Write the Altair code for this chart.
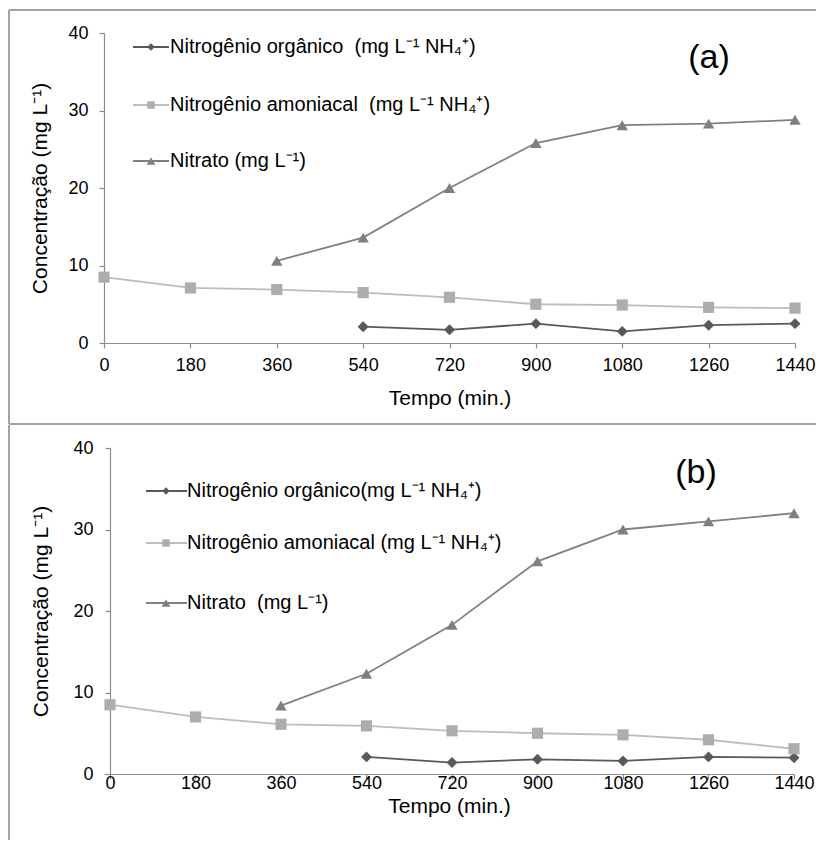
import altair as alt
import pandas as pd

# Sampling times (min)
tempo = [0, 180, 360, 540, 720, 900, 1080, 1260, 1440]
series = ["Nitrogênio orgânico", "Nitrogênio amoniacal", "Nitrato"]

# Panel (a)
org_a = [None, None, None, 2.1, 1.7, 2.5, 1.5, 2.3, 2.5]
amon_a = [8.5, 7.1, 6.9, 6.5, 5.9, 5.0, 4.9, 4.6, 4.5]
nitr_a = [None, None, 10.6, 13.6, 20.0, 25.8, 28.1, 28.3, 28.8]

# Panel (b)
org_b = [None, None, None, 2.1, 1.4, 1.8, 1.6, 2.1, 2.0]
amon_b = [8.5, 7.0, 6.1, 5.9, 5.3, 5.0, 4.8, 4.2, 3.1]
nitr_b = [None, None, 8.4, 12.3, 18.3, 26.1, 30.0, 31.0, 32.0]

legend_a = [
    "Nitrogênio orgânico\u00a0 (mg L⁻¹ NH₄⁺)",
    "Nitrogênio amoniacal\u00a0 (mg L⁻¹ NH₄⁺)",
    "Nitrato (mg L⁻¹)",
]
legend_b = [
    "Nitrogênio orgânico(mg L⁻¹ NH₄⁺)",
    "Nitrogênio amoniacal (mg L⁻¹ NH₄⁺)",
    "Nitrato\u00a0 (mg L⁻¹)",
]

x_ticks = tempo
y_ticks = [0, 10, 20, 30, 40]
x_title = "Tempo (min.)"
y_title = "Concentração (mg L⁻¹)"

FONT = "Liberation Sans"
AXIS_GREY = "#8c8c8c"
BORDER = "#a3a3a3"
line_colors = ["#595959", "#bdbdbd", "#808080"]
mark_colors = ["#595959", "#adadad", "#7f7f7f"]
shapes = ["diamond", "square", "triangle-up"]
mark_sizes = [120, 130, 140]
legend_sizes = [55, 55, 75]


def long_table(org, amon, nitr):
    rows = []
    for name, vals in zip(series, [org, amon, nitr]):
        for t, v in zip(tempo, vals):
            if v is not None:
                rows.append({"tempo": t, "conc": v, "serie": name})
    return pd.DataFrame(rows)


def panel(org, amon, nitr, labels, tag, *, width, height, x_domain, y_offset,
          y_label_pad, y_title_x, x_label_pad, x_title_y,
          leg_x1, leg_xm, leg_x2, leg_tx, leg_ys, tag_x, tag_y, borders):
    df = long_table(org, amon, nitr)

    x = alt.X(
        "tempo:Q",
        scale=alt.Scale(domain=x_domain, nice=False, zero=False),
        axis=alt.Axis(values=x_ticks, format="d", title=x_title,
                      labelPadding=x_label_pad, labelBaseline="middle",
                      labelFlush=False, titleY=x_title_y,
                      titleBaseline="middle"),
    )
    y = alt.Y(
        "conc:Q",
        scale=alt.Scale(domain=[0, 40], nice=False),
        axis=alt.Axis(values=y_ticks, title=y_title, offset=y_offset,
                      labelPadding=y_label_pad, titleX=y_title_x,
                      titleY=height / 2, titleBaseline="middle",
                      titleAlign="center"),
    )

    base = alt.Chart(df)
    lines = base.mark_line(strokeWidth=1.8).encode(
        x=x, y=y,
        color=alt.Color("serie:N", scale=alt.Scale(domain=series, range=line_colors),
                        legend=None),
    )
    points = base.mark_point(filled=True, opacity=1, strokeWidth=0).encode(
        x=x, y=y,
        fill=alt.Fill("serie:N", scale=alt.Scale(domain=series, range=mark_colors),
                      legend=None),
        shape=alt.Shape("serie:N", scale=alt.Scale(domain=series, range=shapes),
                        legend=None),
        size=alt.Size("serie:N", scale=alt.Scale(domain=series, range=mark_sizes),
                      legend=None),
    )

    layers = [lines, points]

    # legend drawn inside the plot area
    for i, (name, label, ly) in enumerate(zip(series, labels, leg_ys)):
        row = alt.Chart(pd.DataFrame({"serie": [name], "rotulo": [label]}))
        layers.append(row.mark_rule(color=line_colors[i], strokeWidth=1.8).encode(
            x=alt.value(leg_x1), x2=alt.value(leg_x2), y=alt.value(ly)))
        layers.append(row.mark_point(filled=True, opacity=1, strokeWidth=0,
                                     shape=shapes[i], size=legend_sizes[i],
                                     fill=mark_colors[i]).encode(
            x=alt.value(leg_xm), y=alt.value(ly)))
        layers.append(row.mark_text(align="left", baseline="middle", fontSize=20,
                                    font=FONT, color="black").encode(
            x=alt.value(leg_tx), y=alt.value(ly), text="rotulo:N"))

    # panel tag
    layers.append(alt.Chart(pd.DataFrame({"tag": [tag]})).mark_text(
        align="center", baseline="alphabetic", fontSize=34, font=FONT,
        color="black").encode(x=alt.value(tag_x), y=alt.value(tag_y), text="tag:N"))

    # frame lines around the panel
    for (bx1, bx2, by1, by2) in borders:
        layers.append(alt.Chart(pd.DataFrame({"k": [0]})).mark_rule(
            color=BORDER, strokeWidth=2).encode(
            x=alt.value(bx1), x2=alt.value(bx2),
            y=alt.value(by1), y2=alt.value(by2)))

    return alt.layer(*layers).properties(width=width, height=height)


top = panel(
    org_a, amon_a, nitr_a, legend_a, "(a)",
    width=691, height=310, x_domain=[0, 1440], y_offset=0,
    y_label_pad=11, y_title_x=-64, x_label_pad=17, x_title_y=55,
    leg_x1=29, leg_xm=47, leg_x2=65, leg_tx=66, leg_ys=[14, 72, 128],
    tag_x=605, tag_y=35,
    borders=[(-95, 712, -23, -23), (-95, -95, -23, 391), (-95, 712, 391, 391)],
)

bottom = panel(
    org_b, amon_b, nitr_b, legend_b, "(b)",
    width=690, height=326, x_domain=[-12.6, 1440], y_offset=-6,
    y_label_pad=12, y_title_x=-69, x_label_pad=4, x_title_y=32,
    leg_x1=42, leg_xm=62, leg_x2=83, leg_tx=83, leg_ys=[43, 95, 155],
    tag_x=592, tag_y=35,
    borders=[(-95, -95, -23, 392)],
)

chart = alt.vconcat(top, bottom, spacing=105, bounds="flush").properties(
    padding={"left": 8, "top": 9, "right": 0, "bottom": 0},
    background="white",
).configure(font=FONT).configure_axis(
    domainColor=AXIS_GREY, tickColor=AXIS_GREY, domainWidth=1.2, tickWidth=1.2,
    tickSize=5, labelFontSize=18, labelColor="black", labelFont=FONT,
    titleFontSize=21, titleFontWeight="normal", titleColor="black",
    titleFont=FONT, grid=False,
).configure_view(stroke=None)

chart.save("out.html", embed_options={"renderer": "svg", "actions": False})
